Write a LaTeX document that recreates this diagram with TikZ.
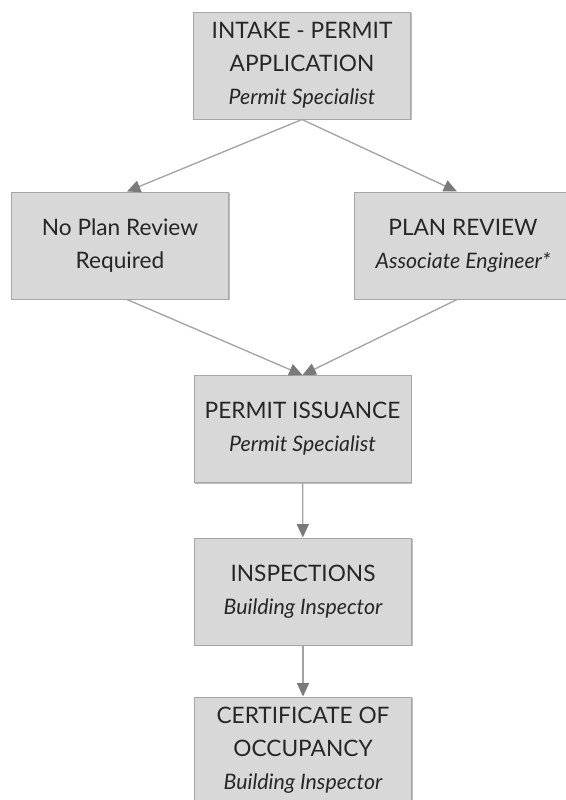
\documentclass[tikz,border=0pt]{standalone}
\usepackage{fontspec}
\setmainfont{Lato}
\usetikzlibrary{arrows.meta,shadows}
\definecolor{boxfill}{HTML}{D8D8D8}
\definecolor{boxline}{HTML}{A6A6A6}
\definecolor{shadowc}{HTML}{BDBDBD}
\definecolor{linec}{HTML}{A3A3A3}
\definecolor{tipc}{HTML}{7A7A7A}
\definecolor{txt}{HTML}{262626}
\newcommand{\rolename}[1]{{\fontsize{16}{24.75}\selectfont\itshape #1}}
\begin{document}
\begin{tikzpicture}[x=0.75pt,y=-0.75pt,
  stepbox/.style={rectangle, draw=boxline, fill=boxfill, line width=0.75pt,
    minimum width=162.75pt, minimum height=80.25pt, align=center, inner sep=0pt,
    text=txt, font=\fontsize{17}{24.75}\selectfont,
    general shadow={fill=shadowc, shadow xshift=1.1pt, shadow yshift=-1.1pt}},
  conn/.style={draw=linec, line width=1pt, -{Triangle[length=10pt,width=9pt,color=tipc]}}
]
\useasboundingbox (0,0) rectangle (566,800);
\clip (0,0) rectangle (566,800);
\node[stepbox] (intake) at (302,65.5) {INTAKE - PERMIT\\APPLICATION\\\rolename{Permit Specialist}};
\node[stepbox] (nopr) at (120,245.5) {No Plan Review\\Required};
\node[stepbox] (plan) at (463,245.5) {PLAN REVIEW\\\rolename{Associate Engineer*}};
\node[stepbox] (issue) at (302.5,429) {PERMIT ISSUANCE\\\rolename{Permit Specialist}};
\node[stepbox] (insp) at (303,591.5) {INSPECTIONS\\\rolename{Building Inspector}};
\node[stepbox] (cert) at (303,750.5) {CERTIFICATE OF\\OCCUPANCY\\\rolename{Building Inspector}};
\draw[conn] (intake.south) -- ([xshift=5.25pt]nopr.north);
\draw[conn] (intake.south) -- ([xshift=-4.5pt]plan.north);
\draw[conn] ([xshift=5.25pt]nopr.south) -- (issue.north);
\draw[conn] ([xshift=-4.5pt]plan.south) -- (issue.north);
\draw[conn] (issue) -- (insp);
\draw[conn] (insp) -- (cert);
\end{tikzpicture}
\end{document}
